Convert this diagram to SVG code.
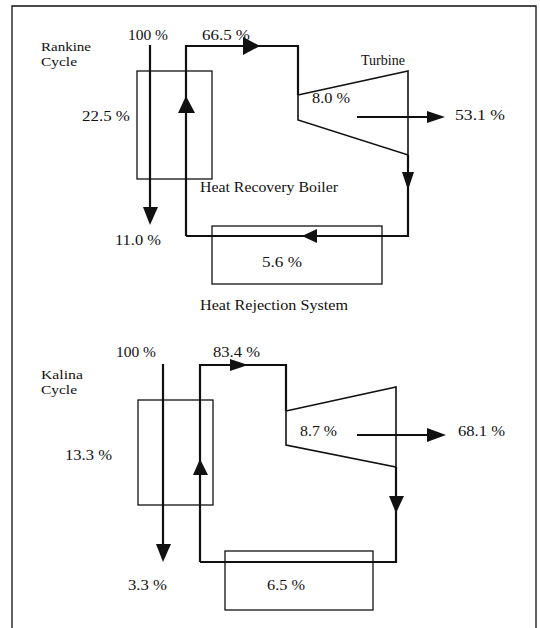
<svg xmlns="http://www.w3.org/2000/svg" width="540" height="628" viewBox="0 0 540 628">
<style>
text{font-family:"Liberation Serif","Times New Roman",serif;font-size:14.5px;fill:#111}
.lbl{font-size:13.5px}
.box{fill:none;stroke:#111;stroke-width:1.3}
.flow{fill:none;stroke:#111;stroke-width:2.2}
.thin{fill:none;stroke:#111;stroke-width:1.6}
.ah{fill:#111;stroke:none}
</style>
<rect width="540" height="628" fill="#fff"/>
<path d="M12,640 V6 H536 V640" fill="none" stroke="#111" stroke-width="1.3"/>

<!-- Rankine -->
<g id="rankine-label"><text class="lbl" x="41" y="51" textLength="50" lengthAdjust="spacingAndGlyphs">Rankine</text><text class="lbl" x="41" y="66" textLength="36" lengthAdjust="spacingAndGlyphs">Cycle</text></g>
<g id="r-boiler"><rect class="box" x="137" y="71" width="75" height="108"/><text x="200" y="192" textLength="138" lengthAdjust="spacingAndGlyphs">Heat Recovery Boiler</text></g>
<g id="r-turbine"><polygon class="thin" points="298,95 408,71 408,155 298,120"/><text x="361" y="65" textLength="44" lengthAdjust="spacingAndGlyphs">Turbine</text><text x="312" y="103" textLength="38" lengthAdjust="spacingAndGlyphs">8.0 %</text></g>
<g id="r-rejection"><rect class="box" x="212" y="226" width="170" height="58"/><text x="262" y="267" textLength="40" lengthAdjust="spacingAndGlyphs">5.6 %</text><text x="200" y="310" textLength="148" lengthAdjust="spacingAndGlyphs">Heat Rejection System</text></g>
<g id="r-labels">
<text x="128" y="40" textLength="40" lengthAdjust="spacingAndGlyphs">100 %</text>
<text x="202" y="40" textLength="48" lengthAdjust="spacingAndGlyphs">66.5 %</text>
<text x="82" y="121" textLength="48" lengthAdjust="spacingAndGlyphs">22.5 %</text>
<text x="455" y="120" textLength="50" lengthAdjust="spacingAndGlyphs">53.1 %</text>
<text x="115" y="245" textLength="46" lengthAdjust="spacingAndGlyphs">11.0 %</text>
</g>
<g id="r-connectors">
<path class="flow" d="M150,45 V210"/>
<polygon class="ah" points="143,207 158,207 150,225"/>
<path class="flow" d="M186,236 V46 H298 V95"/>
<polygon class="ah" points="186,96 178,113 195,113"/>
<polygon class="ah" points="243,37 260,46 243,55"/>
<path class="flow" d="M357,117 H430"/>
<polygon class="ah" points="427,111 445,117 427,123"/>
<path class="flow" d="M408,155 V236 H186"/>
<polygon class="ah" points="402,172 414,172 408,190"/>
<polygon class="ah" points="302,236 317,229 317,243"/>
</g>

<!-- Kalina -->
<g id="kalina-label"><text class="lbl" x="41" y="379" textLength="42" lengthAdjust="spacingAndGlyphs">Kalina</text><text class="lbl" x="41" y="394" textLength="36" lengthAdjust="spacingAndGlyphs">Cycle</text></g>
<g id="k-boiler"><rect class="box" x="138" y="400" width="75" height="105"/></g>
<g id="k-turbine"><polygon class="thin" points="286,411 396,387 396,467 286,445"/><text x="300" y="436" textLength="37" lengthAdjust="spacingAndGlyphs">8.7 %</text></g>
<g id="k-rejection"><rect class="box" x="225" y="551" width="148" height="59"/><text x="267" y="590" textLength="38" lengthAdjust="spacingAndGlyphs">6.5 %</text></g>
<g id="k-labels">
<text x="116" y="357" textLength="40" lengthAdjust="spacingAndGlyphs">100 %</text>
<text x="213" y="357" textLength="47" lengthAdjust="spacingAndGlyphs">83.4 %</text>
<text x="65" y="460" textLength="47" lengthAdjust="spacingAndGlyphs">13.3 %</text>
<text x="458" y="436" textLength="47" lengthAdjust="spacingAndGlyphs">68.1 %</text>
<text x="128" y="590" textLength="39" lengthAdjust="spacingAndGlyphs">3.3 %</text>
</g>
<g id="k-connectors">
<path class="flow" d="M163,364 V548"/>
<polygon class="ah" points="156,544 171,544 163,562"/>
<path class="flow" d="M200,562 V365 H286 V411"/>
<polygon class="ah" points="200,459 193,475 208,475"/>
<polygon class="ah" points="230,359 248,365 230,371"/>
<path class="flow" d="M357,435 H430"/>
<polygon class="ah" points="427,428 446,435 427,442"/>
<path class="flow" d="M396,467 V562 H200"/>
<polygon class="ah" points="389,496 404,496 396,513"/>
</g>
</svg>
